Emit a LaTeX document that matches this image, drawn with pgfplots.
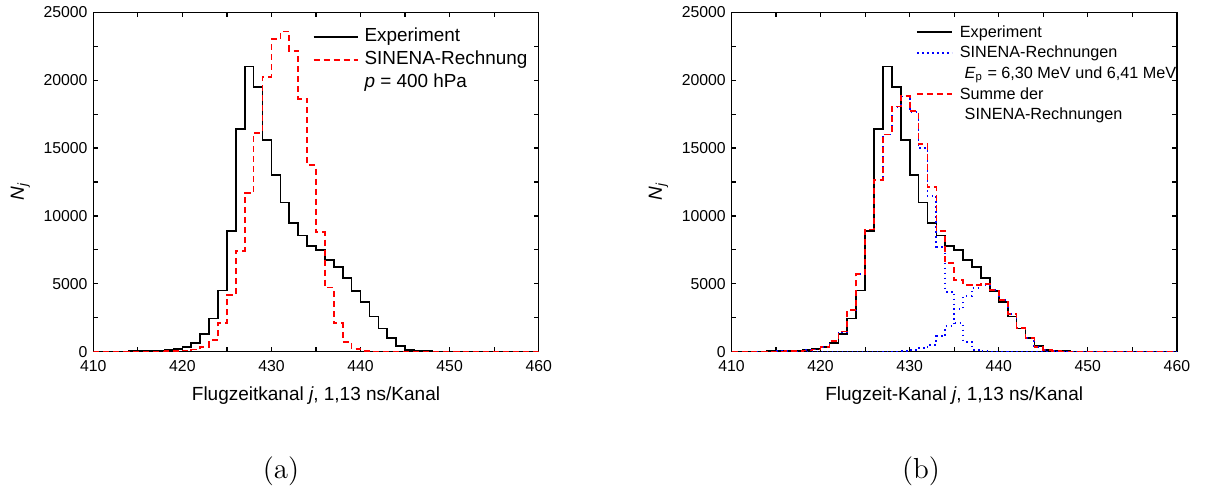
\documentclass[border=0pt]{standalone}
\usepackage{pgfplots}
\usepackage{pgfplotstable}
\pgfplotsset{compat=1.18}
\usepackage{fontspec}
\newfontfamily\arial{Liberation Sans}
\newcommand{\tickfont}{\arial\fontsize{7.9}{9.5}\selectfont}
\newcommand{\labfont}{\arial\fontsize{9.5}{11.4}\selectfont}
\newcommand{\legfontA}{\arial\fontsize{9.45}{11.3}\selectfont}
\newcommand{\legfontB}{\arial\fontsize{8.1}{9.7}\selectfont}

% Experiment (both panels)
\pgfplotstableread{
j N
410 10
411 10
412 20
413 20
414 30
415 30
416 50
417 70
418 110
419 180
420 340
421 640
422 1300
423 2450
424 4500
425 8900
426 16400
427 21000
428 19500
429 15600
430 13000
431 11000
432 9500
433 8550
434 7800
435 7500
436 6750
437 6250
438 5450
439 4450
440 3650
441 2600
442 1700
443 1000
444 400
445 140
446 70
447 30
448 15
449 10
450 5
451 5
452 5
453 5
454 5
455 5
456 5
457 5
458 5
459 5
460 5
}\tabexp

% SINENA-Rechnung, p = 400 hPa (panel a)
\pgfplotstableread{
j N
410 5
411 5
412 5
413 10
414 10
415 10
416 15
417 20
418 30
419 50
420 90
421 160
422 370
423 850
424 2090
425 4180
426 7440
427 11700
428 16130
429 20250
430 23030
431 23590
432 22170
433 18630
434 13730
435 8810
436 4740
437 2090
438 740
439 200
440 60
441 20
442 10
443 5
444 5
445 5
446 5
447 5
448 5
449 5
450 5
451 5
452 5
453 5
454 5
455 5
456 5
457 5
458 5
459 5
460 5
}\tabsima

% Summe der SINENA-Rechnungen (panel b)
\pgfplotstableread{
j N
410 5
411 5
412 10
413 15
414 20
415 25
416 40
417 60
418 100
419 170
420 330
421 800
422 1480
423 3060
424 5700
425 9000
426 12650
427 16000
428 18070
429 18860
430 17750
431 15280
432 12110
433 8900
434 6510
435 5280
436 4910
437 4910
438 4990
439 4550
440 3800
441 2800
442 1750
443 1000
444 370
445 130
446 50
447 20
448 10
449 5
450 5
451 5
452 5
453 5
454 5
455 5
456 5
457 5
458 5
459 5
460 5
}\tabsum

% SINENA-Rechnung, component 1 (panel b)
\pgfplotstableread{
j N
410 5
411 5
412 10
413 15
414 20
415 25
416 40
417 60
418 100
419 170
420 330
421 800
422 1480
423 3060
424 5700
425 9000
426 12650
427 16000
428 18050
429 18800
430 17650
431 14980
432 11470
433 7740
434 4420
435 2090
436 740
437 150
438 30
439 10
440 0
441 0
442 0
443 0
444 0
445 0
446 0
447 0
448 0
449 0
450 0
451 0
452 0
453 0
454 0
455 0
456 0
457 0
458 0
459 0
460 0
}\tabcompa

% SINENA-Rechnung, component 2 (panel b)
\pgfplotstableread{
j N
410 0
411 0
412 0
413 0
414 0
415 0
416 0
417 0
418 0
419 0
420 0
421 0
422 0
423 0
424 0
425 0
426 0
427 0
428 10
429 40
430 100
431 250
432 520
433 1150
434 1900
435 3150
436 4100
437 4700
438 4930
439 4540
440 3800
441 2800
442 1750
443 1000
444 370
445 130
446 50
447 20
448 10
449 5
450 5
451 5
452 5
453 5
454 5
455 5
456 5
457 5
458 5
459 5
460 5
}\tabcompb

\tikzset{
  expstyle/.style={black, line width=0.85pt, solid},
  redstyle/.style={red, line width=0.85pt, dash pattern=on 3pt off 2pt},
  bluestyle/.style={blue, line width=0.9pt, dash pattern=on 0.8pt off 1.7pt},
}

\pgfplotsset{
  myaxis/.style={
    scale only axis, width=222.7pt, height=169.7pt,
    xmin=410, xmax=460, ymin=0, ymax=25000,
    xtick={410,420,430,440,450,460},
    xticklabels={410,420,430,440,450,460},
    minor xtick={415,425,435,445,455},
    ytick={0,5000,10000,15000,20000,25000},
    yticklabels={0,5000,10000,15000,20000,25000},
    minor ytick={2500,7500,12500,17500,22500},
    scaled y ticks=false, scaled x ticks=false,
    tick align=inside,
    major tick length=2.4pt, minor tick length=2.4pt,
    every tick/.style={black, line width=0.6pt},
    axis line style={black, line width=0.7pt},
    tick label style={font=\tickfont},
    xticklabel style={anchor=base, yshift=-9.95pt, inner sep=0pt},
    yticklabel style={anchor=east, xshift=-2.7pt, inner sep=0pt},
    xlabel style={font=\labfont, at={(axis description cs:0.5,-0.1423)}, anchor=base},
    ylabel style={font=\labfont, at={(axis description cs:-0.1638,0.4735)}, anchor=center},
    ylabel={\textit{N}\textsubscript{\textit{j}}},
  },
}

\begin{document}
\begin{tikzpicture}
\useasboundingbox (0,0) rectangle (604pt,247.5pt);

% ---------------- panel (a)
\begin{axis}[myaxis,
  at={(46.65pt,71.65pt)}, anchor=south west,
  xlabel={Flugzeitkanal \textit{j}, 1,13 ns/Kanal},
  legend image code/.code={\draw[#1] (0pt,0pt) -- (22pt,0pt);},
  legend style={at={(axis description cs:0.4929,0.9576)}, anchor=north west,
    draw=none, fill=none, inner sep=0pt, outer sep=0pt,
    row sep=1.5pt, column sep=3pt, font=\legfontA,
    cells={anchor=west},
    nodes={inner sep=0pt, text height=0.75em, text depth=0.25em}},
]
\addplot[expstyle, const plot mark left, forget plot] table[x=j, y=N] {\tabexp};
\addplot[redstyle, const plot mark left, forget plot] table[x=j, y=N] {\tabsima};
\addlegendimage{expstyle}
\addlegendentry{Experiment}
\addlegendimage{redstyle}
\addlegendentry{SINENA-Rechnung}
\addlegendimage{empty legend}
\addlegendentry{\textit{p} = 400 hPa}
\end{axis}

% ---------------- panel (b)
\begin{axis}[myaxis,
  at={(365.75pt,71.65pt)}, anchor=south west,
  xlabel={Flugzeit-Kanal \textit{j}, 1,13 ns/Kanal},
  legend image code/.code={\draw[#1] (0pt,0pt) -- (17.5pt,0pt);},
  legend style={at={(axis description cs:0.4144,0.9714)}, anchor=north west,
    draw=none, fill=none, inner sep=0pt, outer sep=0pt,
    row sep=0.35pt, column sep=3.5pt, font=\legfontB,
    cells={anchor=west},
    nodes={inner sep=0pt, text height=0.75em, text depth=0.25em}},
]
\addplot[expstyle, const plot mark left, forget plot] table[x=j, y=N] {\tabexp};
\addplot[bluestyle, const plot mark left, forget plot] table[x=j, y=N] {\tabcompa};
\addplot[bluestyle, const plot mark left, forget plot] table[x=j, y=N] {\tabcompb};
\addplot[redstyle, const plot mark left, forget plot] table[x=j, y=N] {\tabsum};
\addlegendimage{expstyle}
\addlegendentry{Experiment}
\addlegendimage{bluestyle}
\addlegendentry{SINENA-Rechnungen}
\addlegendimage{empty legend}
\addlegendentry{\hspace{0.3em}\textit{E}\textsubscript{p} = 6,30 MeV und 6,41 MeV}
\addlegendimage{redstyle}
\addlegendentry{Summe der}
\addlegendimage{empty legend}
\addlegendentry{\hspace{0.3em}SINENA-Rechnungen}
\end{axis}

\node[anchor=base, font=\fontsize{14.5}{17}\selectfont] at (140.5pt,8.1pt) {(a)};
\node[anchor=base, font=\fontsize{14.5}{17}\selectfont] at (460.5pt,8.1pt) {(b)};
\end{tikzpicture}
\end{document}
